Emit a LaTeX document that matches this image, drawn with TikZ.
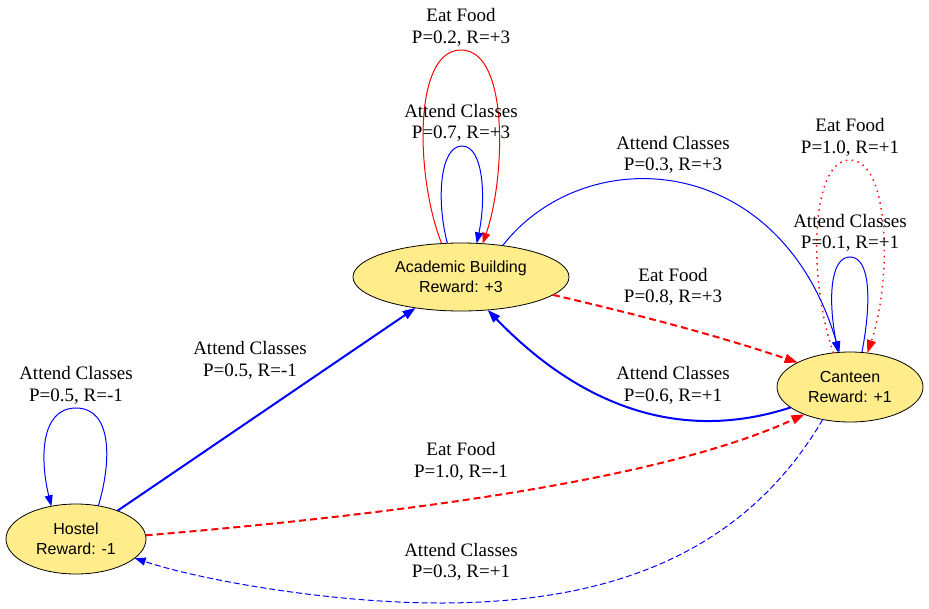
\documentclass[tikz,border=0pt]{standalone}
\usepackage{fontspec}
\setmainfont{Liberation Serif}
\newfontfamily\statefont{Liberation Sans}
\usetikzlibrary{arrows.meta,shapes.geometric}
\definecolor{stategold}{HTML}{FFEC8B}
\tikzset{
  mdpstate/.style={ellipse, draw=black, fill=stategold, line width=0.8pt,
    inner sep=0pt, outer sep=0pt, align=center,
    font=\statefont\fontsize{16}{20}\selectfont},
  edgelbl/.style={align=center, inner sep=0pt, font=\fontsize{19}{21.5}\selectfont},
  thintip/.style={-{Triangle[length=11pt,width=8pt]}},
  thicktip/.style={-{Triangle[length=13pt,width=9pt]}},
  attend/.style={blue, line width=1pt, thintip},
  attendbig/.style={blue, line width=2pt, thicktip},
  eat/.style={red, line width=1pt, thintip},
  eatbig/.style={red, line width=2pt, dash pattern=on 7pt off 4pt, thicktip}
}

\begin{document}
\begin{tikzpicture}[x=1pt,y=-1pt]
    \useasboundingbox (0,0) rectangle (929,608);

    % States
    \node[mdpstate, minimum width=140, minimum height=70] (hostel) at (76,539) {Hostel\\Reward: -1};
    \node[mdpstate, minimum width=216, minimum height=68] (acad) at (461,277) {Academic Building\\Reward: +3};
    \node[mdpstate, minimum width=146, minimum height=70] (canteen) at (850,387) {Canteen\\Reward: +1};

    % Self loops
    \draw[attend] (hostel.56) .. controls (112,460) and (112,408) .. (76,408) .. controls (40,408) and (40,460) .. (hostel.127); % hostel
    \draw[eat] (acad.120) .. controls (416,180) and (412,50) .. (461,50) .. controls (510,50) and (505,180) .. (acad.57); % acad, eat
    \draw[attend] (acad.112) .. controls (436,200) and (440,146) .. (462,146) .. controls (484,146) and (486,200) .. (acad.65); % acad, attend
    \draw[eat, line width=1.4pt, dash pattern=on 1.5pt off 4.5pt, thicktip] (canteen.116) .. controls (808,280) and (810,160) .. (850,160) .. controls (890,160) and (892,280) .. (canteen.63); % canteen, eat
    \draw[attend] (canteen.71) .. controls (872,300) and (870,257) .. (850,257) .. controls (830,257) and (828,300) .. (canteen.109); % canteen, attend

    % Hostel out
    \draw[attendbig] (hostel) -- (acad);
    \draw[eatbig] (hostel.3) .. controls (376,516) and (655,483) .. (canteen.211);

    % Academic Building out
    \draw[attend] (acad.37) .. controls (585,140) and (780,150) .. (canteen.107);
    \draw[eatbig] (acad.349) .. controls (635,314) and (716,335) .. (canteen.155);

    % Canteen out
    \draw[attendbig] (canteen.199) .. controls (660,450) and (560,385) .. (acad.309);
    \draw[attend, dash pattern=on 6pt off 3pt] (canteen.230) .. controls (740,560) and (600,603) .. (440,603) .. controls (330,603) and (200,580) .. (hostel.342);

    % Edge labels
    \node[edgelbl] (lhh) at (76,385.5) {Attend Classes\\P=0.5, R=-1};
    \node[edgelbl] (lha) at (250,360.5) {Attend Classes\\P=0.5, R=-1};
    \node[edgelbl] (lhc) at (461,461.5) {Eat Food\\P=1.0, R=-1};
    \node[edgelbl] (lch) at (461,562) {Attend Classes\\P=0.3, R=+1};
    \node[edgelbl] (laae) at (461,27.5) {Eat Food\\P=0.2, R=+3};
    \node[edgelbl] (laaa) at (461,123) {Attend Classes\\P=0.7, R=+3};
    \node[edgelbl] (laca) at (673,155) {Attend Classes\\P=0.3, R=+3};
    \node[edgelbl] (lace) at (673,287) {Eat Food\\P=0.8, R=+3};
    \node[edgelbl] (lcaa) at (673,385.5) {Attend Classes\\P=0.6, R=+1};
    \node[edgelbl] (lcce) at (850,137.5) {Eat Food\\P=1.0, R=+1};
    \node[edgelbl] (lcca) at (850,233) {Attend Classes\\P=0.1, R=+1};
\end{tikzpicture}
\end{document}
